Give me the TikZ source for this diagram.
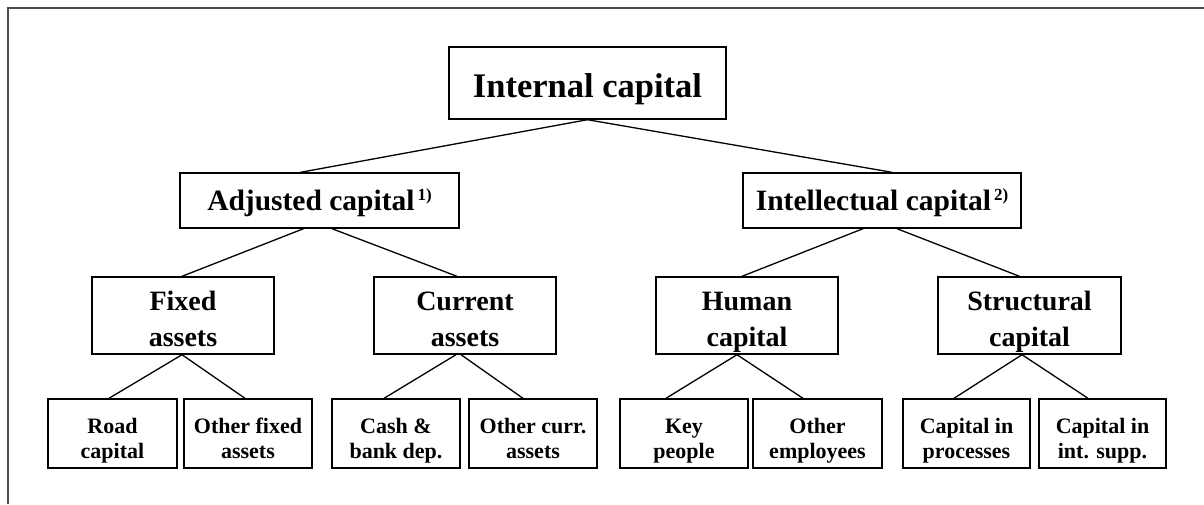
\documentclass[tikz,border=0pt]{standalone}
\usepackage{fontspec}
\setmainfont{Liberation Serif}
\newcommand{\myht}[1]{\rule{0pt}{#1}}
\newcommand{\mydp}[1]{\rule[-#1]{0pt}{#1}}
\newcommand{\mysup}[1]{\kern3pt\raisebox{10pt}{\fontsize{17}{17}\selectfont #1}}
\begin{document}
\begin{tikzpicture}[x=1pt,y=-1pt,
  box/.style={draw=black, line width=1.4pt, inner sep=0pt, align=center},
  lvlone/.style={box, minimum width=277pt, minimum height=72pt, font=\fontsize{34.5}{40}\selectfont\bfseries},
  lvltwo/.style={box, minimum width=279pt, minimum height=55pt, font=\fontsize{29.5}{34}\selectfont\bfseries},
  lvlthree/.style={box, minimum width=182pt, minimum height=69pt, font=\fontsize{28}{36}\selectfont\bfseries},
  lvlfour/.style={box, minimum width=128pt, minimum height=69pt, font=\fontsize{22}{25}\selectfont\bfseries},
  conn/.style={line width=1.3pt, line cap=round},
  frame/.style={draw=black!70, line width=1.8pt}
]
\useasboundingbox (0,0) rectangle (1204,504);
\draw[frame] (8,504) -- (8,8) -- (1204,8);

\node[lvlone] (root) at (587.5,83) {\myht{38pt}Internal capital\mydp{10pt}};

\node[lvltwo] (adj) at (319.5,200.5) {\myht{27pt}Adjusted capital\mysup{1)}\mydp{8pt}};
\node[lvltwo, minimum width=278pt] (itl) at (882,200.5) {\myht{27pt}Intellectual capital\mysup{2)}\mydp{8pt}};

\node[lvlthree] (fix) at (183,315.5) {\myht{33pt}Fixed\\assets\mydp{8pt}};
\node[lvlthree] (cur) at (465,315.5) {\myht{33pt}Current\\assets\mydp{8pt}};
\node[lvlthree] (hum) at (747,315.5) {\myht{33pt}Human\\capital\mydp{8pt}};
\node[lvlthree, minimum width=183pt] (str) at (1029.5,315.5) {\myht{33pt}Structural\\capital\mydp{8pt}};

\node[lvlfour, minimum width=129pt] (road) at (112.5,433.5) {\myht{30pt}Road\\capital\mydp{6pt}};
\node[lvlfour] (ofa) at (248,433.5) {\myht{30pt}Other fixed\\assets\mydp{6pt}};
\node[lvlfour] (cash) at (396,433.5) {\myht{30pt}Cash \&\\bank dep.\mydp{6pt}};
\node[lvlfour] (oca) at (533,433.5) {\myht{30pt}Other curr.\\assets\mydp{6pt}};
\node[lvlfour] (key) at (684,433.5) {\myht{30pt}Key\\people\mydp{6pt}};
\node[lvlfour, minimum width=129pt] (oemp) at (817.5,433.5) {\myht{30pt}Other\\employees\mydp{6pt}};
\node[lvlfour, minimum width=127pt] (proc) at (966.5,433.5) {\myht{30pt}Capital in\\processes\mydp{6pt}};
\node[lvlfour, minimum width=127pt] (supp) at (1102.5,433.5) {\myht{30pt}Capital in\\int. supp.\mydp{6pt}};

\draw[conn] (root.south) -- ([xshift=-19pt]adj.north);
\draw[conn] (root.south) -- ([xshift=10pt]itl.north);

\draw[conn] ([xshift=-16pt]adj.south) -- ([xshift=-1pt]fix.north);
\draw[conn] ([xshift=12.5pt]adj.south) -- ([xshift=-8pt]cur.north);
\draw[conn] ([xshift=-19pt]itl.south) -- ([xshift=-5pt]hum.north);
\draw[conn] ([xshift=15pt]itl.south) -- ([xshift=-10pt]str.north);

\draw[conn] ([xshift=-1pt]fix.south) -- ([xshift=-3.5pt]road.north);
\draw[conn] ([xshift=-1pt]fix.south) -- ([xshift=-3pt]ofa.north);
\draw[conn] ([xshift=-9pt]cur.south) -- ([xshift=-12pt]cash.north);
\draw[conn] ([xshift=-4pt]cur.south) -- ([xshift=-10pt]oca.north);
\draw[conn] ([xshift=-10pt]hum.south) -- ([xshift=-18pt]key.north);
\draw[conn] ([xshift=-10pt]hum.south) -- ([xshift=-14.5pt]oemp.north);
\draw[conn] ([xshift=-7.5pt]str.south) -- ([xshift=-12.5pt]proc.north);
\draw[conn] ([xshift=-7.5pt]str.south) -- ([xshift=-14.5pt]supp.north);
\end{tikzpicture}
\end{document}
